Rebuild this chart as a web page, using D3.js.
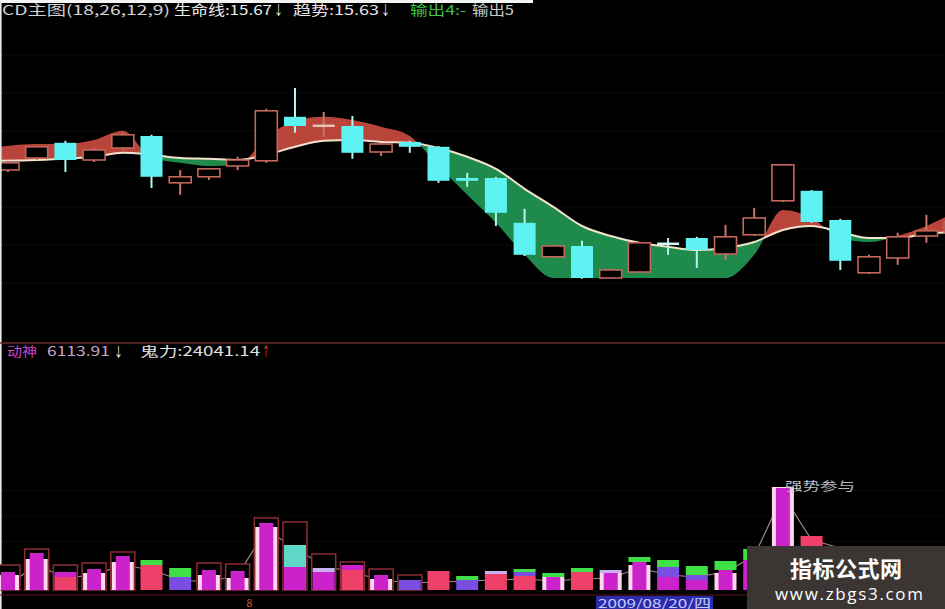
<!DOCTYPE html>
<html><head><meta charset="utf-8">
<script src="https://cdn.jsdelivr.net/npm/d3@7"></script>
<style>html,body{margin:0;padding:0;background:#000;overflow:hidden}</style>
</head><body><svg id="c" width="945" height="609"></svg>
<script>
// ---------- DATA ----------
// Daily candles (price)
const opens  = [17.35,17.65,18.03,17.60,17.90,18.20,17.03,17.18,17.45,17.58,18.68,18.43,18.45,17.80,18.05,17.93,17.15,17.15,16.03,15.18,15.45,14.65,14.80,15.53,15.65,15.25,15.73,16.58,16.83,16.10,14.78,15.15,15.70,15.80];
const highs  = [17.58,17.95,18.08,17.90,18.28,18.23,17.35,17.40,17.68,18.88,19.40,18.80,18.70,18.03,18.08,17.95,17.28,17.18,16.38,15.48,15.58,14.88,15.55,15.65,15.68,15.98,16.40,17.50,16.85,16.13,15.23,15.78,16.23,16.35];
const lows   = [17.30,17.60,17.30,17.55,17.85,16.90,16.73,17.10,17.35,17.53,18.28,18.18,17.63,17.70,17.78,17.03,16.93,15.95,15.20,15.15,14.63,14.63,14.78,15.23,14.90,15.10,15.70,16.55,16.03,14.85,14.75,14.98,15.53,15.70];
const closes = [17.53,17.93,17.60,17.85,18.23,17.18,17.18,17.38,17.60,18.83,18.45,18.48,17.78,18.00,17.93,17.08,17.08,16.28,15.23,15.45,14.65,14.85,15.53,15.48,15.35,15.68,16.15,17.48,16.05,15.08,15.18,15.68,15.83,16.05];
// 生命线 (white line) and fast trend line bounding the ribbon
const lifeLine = [17.58,17.60,17.63,17.68,17.78,17.73,17.65,17.63,17.60,17.73,17.93,18.08,18.10,18.05,18.03,17.90,17.68,17.38,16.88,16.43,15.95,15.70,15.53,15.43,15.35,15.40,15.55,15.85,15.95,15.80,15.65,15.65,15.75,15.80];
const fastLine = [17.93,18.00,18.00,18.10,18.33,17.65,17.53,17.45,17.48,18.15,18.58,18.68,18.60,18.43,18.20,17.45,16.73,16.03,15.23,14.65,14.65,14.65,14.65,14.65,14.65,14.65,15.23,16.35,16.15,15.65,15.55,15.70,15.95,16.30];
// Lower panel
const volOutline  = [2500,4100,2500,2700,3800,0,0,2700,2600,7200,6800,3600,2800,2100,1500,0,0,0,0,0,0,0,0,0,0,0,0,0,0,0,0,0,0,0];
const volWhite    = [1500,3100,0,1700,2800,0,0,1500,1200,6300,0,0,0,1100,0,0,0,0,0,1300,0,1700,2500,0,0,1700,0,10300,0,0,0,0,0,0];
const volRed      = [0,0,1300,0,0,2500,0,0,0,0,0,0,2000,0,0,1900,0,1600,1400,0,1800,0,0,0,0,0,0,0,5400,0,3000,0,2800,0];
const volMagenta  = [1800,3700,500,2100,3400,0,0,2000,1900,6700,2300,1800,500,1500,0,0,0,0,0,1300,0,1700,2800,1300,1000,2000,3000,10200,0,3400,0,2500,0,3000];
const volPurple   = [0,0,0,0,0,0,1300,0,0,0,0,0,0,0,1000,0,1000,0,400,0,0,0,0,1000,500,0,0,0,0,0,0,0,0,0];
const volTeal     = [0,0,0,0,0,0,0,0,0,0,2200,0,0,0,0,0,0,0,0,0,0,0,0,0,0,0,0,0,0,0,0,0,0,0];
const volLavender = [0,0,0,0,0,0,0,0,0,0,0,400,0,0,0,0,0,300,0,0,0,300,0,0,0,0,0,0,0,0,0,0,0,0];
const volGreen    = [0,0,0,0,0,500,900,0,0,0,0,0,0,0,0,0,400,0,300,400,400,0,500,700,900,900,1100,0,0,1000,0,500,0,0];
const volLine     = [500,2500,1200,1500,2500,2000,1000,800,1500,6000,4200,2400,1800,1000,700,800,900,1000,1100,900,1100,1200,2200,1500,1300,1800,3400,9500,5000,4200,3000,2500,2500,2500];
// Texts
const topLegend = [
  {t:"CD主图(18,26,12,9)", c:"#d2d2d2"},
  {t:"生命线:15.67", c:"#ececec"}, {t:"↓", c:"#ffffff"},
  {t:"趋势:15.63", c:"#ece2ec"}, {t:"↓", c:"#ffffff"},
  {t:"输出4:-", c:"#3cc444"}, {t:"输出5", c:"#c8c8c8"}
];
const lowLegend = [
  {t:"动神", c:"#d044d0"}, {t:"6113.91", c:"#c8a4c8"}, {t:"↓", c:"#ffffff"},
  {t:"鬼力:24041.14", c:"#e2e2e2"}, {t:"↑", c:"#e04848"}
];
const signalLabel = "强势参与";
const monthLabel = "8";
const dateLabel = "2009/08/20/四";
const watermark = ["指标公式网", "www.zbgs3.com"];

// ---------- DRAW ----------
const W = 945, H = 609;
const svg = d3.select('#c');
svg.append('rect').attr('width', W).attr('height', H).attr('fill', '#000');
const n = closes.length;
const idx = d3.range(n);
const x = d3.scaleLinear().domain([0, 32]).range([8, 926.4]);
const yP = d3.scaleLinear().domain([14, 20]).range([304, 64]);
const yV = d3.scaleLinear().domain([0, 12000]).range([590, 470]);
const FONT = '"Noto Sans CJK SC","Noto Sans",sans-serif';

// faint dotted grid
const grid = svg.append('g').attr('stroke', '#2c2c2c').attr('stroke-width', 1).attr('stroke-dasharray', '1,3');
d3.range(7).forEach(k => grid.append('line').attr('x1', 2).attr('x2', W).attr('y1', 55 + k * 38).attr('y2', 55 + k * 38));
d3.range(3).forEach(k => grid.append('line').attr('x1', 2).attr('x2', W).attr('y1', 490 + k * 26).attr('y2', 490 + k * 26));

// ribbon
const curve = d3.curveMonotoneX;
const bx = i => i === 0 ? 0 : x(i);
const defs = svg.append('defs');
defs.append('clipPath').attr('id', 'above').append('path')
  .attr('d', d3.area().x(bx).y0(0).y1(i => yP(lifeLine[i])).curve(curve)(idx));
defs.append('clipPath').attr('id', 'below').append('path')
  .attr('d', d3.area().x(bx).y0(i => yP(lifeLine[i])).y1(340).curve(curve)(idx));
const band = d3.area().x(bx).y0(i => yP(lifeLine[i])).y1(i => yP(fastLine[i])).curve(curve);
svg.append('path').attr('d', band(idx)).attr('fill', '#b8443a').attr('clip-path', 'url(#above)');
svg.append('path').attr('d', band(idx)).attr('fill', '#1e8a4c').attr('clip-path', 'url(#below)');
svg.append('path').attr('d', d3.line().x(bx).y(i => yP(lifeLine[i])).curve(curve)(idx))
  .attr('fill', 'none').attr('stroke', '#f2e2cc').attr('stroke-width', 2);

// candles
const cw = 22;
const cg = svg.append('g');
idx.forEach(i => {
  const up = closes[i] >= opens[i];
  const col = up ? '#c4665a' : '#5ef2f2';
  const wickCol = up ? '#c8766a' : '#b4f4f4';
  const top = yP(Math.max(opens[i], closes[i]));
  const bot = yP(Math.min(opens[i], closes[i]));
  cg.append('line').attr('x1', x(i)).attr('x2', x(i)).attr('y1', yP(highs[i])).attr('y2', yP(lows[i]))
    .attr('stroke', wickCol).attr('stroke-width', 2);
  if (bot - top < 2.5) {
    cg.append('line').attr('x1', x(i) - cw / 2).attr('x2', x(i) + cw / 2).attr('y1', (top + bot) / 2).attr('y2', (top + bot) / 2)
      .attr('stroke', up ? '#e8c4bc' : '#d8f6f6').attr('stroke-width', 2.5);
  } else if (up) {
    cg.append('rect').attr('x', x(i) - cw / 2).attr('y', top).attr('width', cw).attr('height', bot - top)
      .attr('fill', '#000').attr('stroke', col).attr('stroke-width', 1.6);
  } else {
    cg.append('rect').attr('x', x(i) - cw / 2).attr('y', top).attr('width', cw).attr('height', bot - top)
      .attr('fill', col);
  }
});

// top white strip, left border
svg.append('rect').attr('x', 0).attr('y', 0).attr('width', 533).attr('height', 3).attr('fill', '#f4f4f4');
svg.append('rect').attr('x', 0).attr('y', 0).attr('width', 1.6).attr('height', H).attr('fill', '#e8e8e8');

// top legend
const tl = svg.append('text').attr('y', 15).attr('font-family', FONT).attr('font-size', 13.5);
const tlPos = [[2, 168], [174, 98], [274, 9], [293, 86], [381, 9], [410, 56], [472, 42]];
topLegend.forEach((d, k) => {
  svg.append('text').attr('x', tlPos[k][0]).attr('y', 15).attr('font-family', FONT).attr('font-size', 13.5)
    .attr('fill', d.c).attr('textLength', tlPos[k][1]).attr('lengthAdjust', 'spacingAndGlyphs').text(d.t);
});

// separator
svg.append('line').attr('x1', 0).attr('x2', W).attr('y1', 343).attr('y2', 343).attr('stroke', '#6a2c2c').attr('stroke-width', 1.5);
const llPos = [[7, 30], [47, 63], [114, 9], [140, 120], [262, 8]];
lowLegend.forEach((d, k) => {
  svg.append('text').attr('x', llPos[k][0]).attr('y', 356).attr('font-family', FONT).attr('font-size', 13)
    .attr('fill', d.c).attr('textLength', llPos[k][1]).attr('lengthAdjust', 'spacingAndGlyphs').text(d.t);
});

// lower panel
const vg = svg.append('g');
vg.append('path').attr('d', d3.line().x(i => x(i)).y(i => yV(volLine[i]))(idx))
  .attr('fill', 'none').attr('stroke', '#a08a8a').attr('stroke-width', 1.2);
idx.forEach(i => {
  if (volOutline[i] > 0)
    vg.append('rect').attr('x', x(i) - 12).attr('y', yV(volOutline[i])).attr('width', 24).attr('height', yV(0) - yV(volOutline[i]))
      .attr('fill', '#000').attr('stroke', '#8c2c34').attr('stroke-width', 1.5);
  if (volWhite[i] > 0)
    vg.append('rect').attr('x', x(i) - 11).attr('y', yV(volWhite[i])).attr('width', 22).attr('height', yV(0) - yV(volWhite[i]))
      .attr('fill', '#ffd6ee');
});
const keys = ['red', 'magenta', 'purple', 'teal', 'lavender', 'green'];
const colors = {red: '#ee4068', magenta: '#cc22cc', purple: '#7a4ee0', teal: '#5ed6c8', lavender: '#c8b0f0', green: '#3ee046'};
const src = {red: volRed, magenta: volMagenta, purple: volPurple, teal: volTeal, lavender: volLavender, green: volGreen};
const stacked = d3.stack().keys(keys)(idx.map(i => {
  const o = {}; keys.forEach(k => o[k] = src[k][i]); return o;
}));
stacked.forEach(s => {
  s.forEach((seg, i) => {
    if (seg[1] - seg[0] <= 0) return;
    const narrow = s.key === 'magenta' && volWhite[i] > 0;
    const w = narrow ? 14 : 22;
    vg.append('rect').attr('x', x(i) - w / 2).attr('y', yV(seg[1])).attr('width', w)
      .attr('height', yV(seg[0]) - yV(seg[1])).attr('fill', colors[s.key]);
  });
});
svg.append('text').attr('x', 785).attr('y', 491).attr('font-family', FONT).attr('font-size', 12.5)
  .attr('fill', '#bcbcc4').attr('textLength', 70).attr('lengthAdjust', 'spacingAndGlyphs').text(signalLabel);

// date axis
svg.append('line').attr('x1', 0).attr('x2', W).attr('y1', 595).attr('y2', 595).attr('stroke', '#5a1a1a').attr('stroke-width', 1.2);
svg.append('text').attr('x', x(8.3)).attr('y', 607).attr('font-family', FONT).attr('font-size', 11)
  .attr('fill', '#d05030').text(monthLabel);
svg.append('rect').attr('x', 596).attr('y', 596).attr('width', 117).attr('height', 13).attr('fill', '#2c2caa');
svg.append('text').attr('x', 598).attr('y', 607.5).attr('font-family', FONT).attr('font-size', 12)
  .attr('fill', '#c4ccff').attr('textLength', 113).attr('lengthAdjust', 'spacingAndGlyphs').text(dateLabel);

// watermark
svg.append('rect').attr('x', 747).attr('y', 546).attr('width', 198).attr('height', 63).attr('fill', '#3b3534');
svg.append('text').attr('x', 846).attr('y', 577).attr('text-anchor', 'middle').attr('font-family', FONT)
  .attr('font-weight', 'bold').attr('font-size', 22).attr('fill', '#ffffff').attr('textLength', 112).text(watermark[0]);
svg.append('text').attr('x', 849).attr('y', 600).attr('text-anchor', 'middle').attr('font-family', '"Open Sans","Liberation Sans",sans-serif')
  .attr('font-size', 17).attr('fill', '#ffffff').attr('textLength', 148).text(watermark[1]);
</script></body></html>
